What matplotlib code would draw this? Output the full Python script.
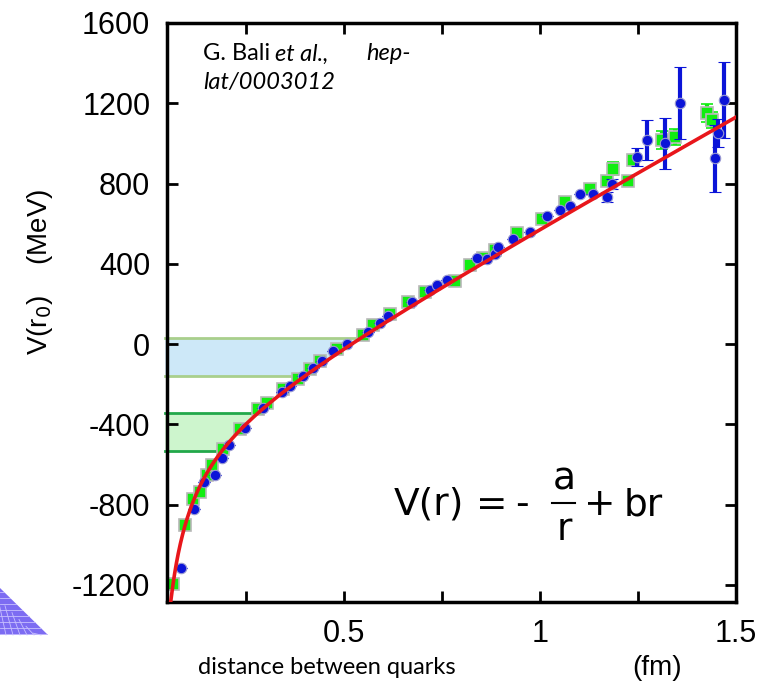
import numpy as np
import matplotlib.pyplot as plt
from matplotlib.patches import Polygon

plt.rcParams['axes.unicode_minus'] = False

# lattice data (r in fm, V in MeV)
r_green = [0.064, 0.094, 0.115, 0.133, 0.151, 0.163, 0.191, 0.235, 0.281, 0.304,
           0.344, 0.383, 0.413, 0.439, 0.482, 0.548, 0.574, 0.617, 0.663,
           0.707, 0.783, 0.822, 0.855, 0.885, 0.941, 1.005, 1.064, 1.128, 1.171,
           1.186, 1.225, 1.237, 1.311, 1.344, 1.426, 1.439]
V_green = [-1195, -900, -770, -735, -650, -600, -525, -425, -325, -295,
           -225, -175, -125, -85, -25, 45, 95, 150, 210,
           260, 315, 395, 430, 470, 555, 625, 710, 775, 815,
           875, 815, 915, 1015, 1030, 1150, 1115]
e_green = [0, 0, 0, 0, 0, 0, 0, 0, 0, 0,
           0, 0, 0, 0, 0, 0, 0, 0, 0,
           0, 0, 0, 0, 0, 0, 0, 0, 0, 0,
           30, 25, 25, 45, 40, 45, 40]

r_blue = [0.084, 0.117, 0.143, 0.171, 0.189, 0.207, 0.247, 0.293, 0.342, 0.362,
          0.395, 0.421, 0.444, 0.472, 0.508, 0.561, 0.592, 0.612, 0.674, 0.719,
          0.737, 0.763, 0.839, 0.865, 0.885, 0.893, 0.931, 0.975, 1.018, 1.051,
          1.077, 1.102, 1.135, 1.171, 1.184, 1.248, 1.273, 1.319, 1.357, 1.446,
          1.455, 1.469]
V_blue = [-1115, -820, -685, -650, -565, -505, -420, -320, -240, -210,
          -160, -120, -85, -35, 0, 60, 105, 140, 210, 270,
          295, 320, 430, 425, 450, 485, 525, 560, 640, 670,
          690, 750, 750, 735, 800, 930, 1015, 1000, 1200, 925,
          1050, 1215]
e_blue = [0, 0, 0, 0, 0, 0, 0, 0, 0, 0,
          0, 0, 0, 0, 0, 0, 0, 0, 0, 0,
          0, 0, 0, 0, 0, 0, 0, 0, 0, 0,
          0, 0, 0, 25, 25, 45, 100, 125, 180, 165,
          70, 190]

# fit  V(r) = -a/r + b r + c
a_fit, b_fit, c_fit = 51.0, 1088.0, -467.0

# shaded bands (MeV)
band_blue = (-160, 30)
band_green = (-535, -345)

fig = plt.figure(figsize=(7.74, 6.9), dpi=100)
ax = fig.add_axes([167/774, 1-602/690, (736-167)/774, (602-23)/690])

ax.set_xlim(0.0485, 1.5)
ax.set_ylim(-1285, 1600)

rr = np.linspace(0.03, 1.6, 2000)
VV = -a_fit/rr + b_fit*rr + c_fit

def r_of_V(v):
    return np.interp(v, VV, rr)

xl = 0.043
for (lo, hi), fc, ec in [(band_blue, '#cde8f8', '#a9cf8c'),
                         (band_green, '#cdf5cd', '#22a84a')]:
    yy = np.linspace(lo, hi, 100)
    ax.fill_betweenx(yy, xl, r_of_V(yy), color=fc, lw=0, clip_on=False, zorder=1)
    for v in (lo, hi):
        ax.plot([xl, r_of_V(v)], [v, v], color=ec, lw=2, clip_on=False, zorder=1.5)

ax.errorbar(r_green, V_green, yerr=e_green, fmt='s', ms=8.5, color='#11ee11',
            mec='#b8b8b8', mew=1.2, ecolor='#11ee11', elinewidth=3, capsize=4,
            capthick=2.5, zorder=2)
ax.errorbar(r_blue, V_blue, yerr=e_blue, fmt='o', ms=7.5, color='#0b14d8',
            mec='#9a9ad0', mew=0.8, ecolor='#0b14d8', elinewidth=3, capsize=4.5,
            capthick=2.5, zorder=3)

m = rr > 0.05
ax.plot(rr[m], VV[m], color='#e8161b', lw=2.6, zorder=4)

ax.set_xticks([0.25, 0.5, 0.75, 1.0, 1.25, 1.5])
ax.set_xticklabels(['', '0.5', '', '1', '', '1.5'])
ax.set_yticks(np.arange(-1200, 1601, 400))
ax.tick_params(direction='in', length=8, width=2, top=True, right=True,
               labelsize=22, pad=12)
for lab in ax.get_xticklabels() + ax.get_yticklabels():
    lab.set_family('Liberation Sans')
for s in ax.spines.values():
    s.set_linewidth(2.5)

def ftext(x, y, s, **kw):
    fig.text(x/774, 1-y/690, s, **kw)

ftext(203, 54, 'G. Bali', family='Lato', fontsize=17, va='center')
ftext(275, 54, 'et al.,', family='Lato', style='italic', fontsize=17, va='center')
ftext(366, 54, 'hep-', family='Lato', style='italic', fontsize=17, va='center')
ftext(203, 82, 'lat/0003012', family='Lato', style='italic', fontsize=17, va='center')

ftext(40, 272, 'V(r$_0$)    (MeV)', family='Liberation Sans', fontsize=20,
      rotation=90, ha='center', va='center')
ftext(198, 668, 'distance between quarks', family='Lato', fontsize=17, va='center')
ftext(657, 668, '(fm)', family='Liberation Sans', fontsize=20, ha='center', va='center')

ftext(394, 505, 'V(r)', family='DejaVu Sans', fontsize=27, va='center')
ftext(492, 505, '=', family='DejaVu Sans', fontsize=27, ha='center', va='center')
ftext(522, 505, '-', family='DejaVu Sans', fontsize=27, ha='center', va='center')
ftext(564, 480, 'a', family='DejaVu Sans', fontsize=27, ha='center', va='center')
ftext(564, 530, 'r', family='DejaVu Sans', fontsize=27, ha='center', va='center')
fig.add_artist(plt.Line2D([552/774, 575/774], [1-503/690, 1-503/690], color='black', lw=1.5))
ftext(600, 505, '+', family='DejaVu Sans', fontsize=27, ha='center', va='center')
ftext(624, 505, 'br', family='DejaVu Sans', fontsize=27, va='center')

# corner of the lattice picture
tri = Polygon([[0, 1-588/690], [48/774, 1-635/690], [0, 1-635/690]],
              closed=True, transform=fig.transFigure, fc='#7d6cf2', ec='none')
fig.add_artist(tri)
for yy_ in np.arange(592, 636, 6):
    xx_ = (yy_-588)*48/47
    fig.add_artist(plt.Line2D([0, xx_/774], [1-yy_/690, 1-yy_/690], color='#c8c0ff', lw=0.6))
for xx_ in np.arange(6, 48, 7):
    fig.add_artist(plt.Line2D([xx_/774, (xx_-8)/774], [1-635/690, 1-(588+xx_*47/48+5)/690],
                              color='#c8c0ff', lw=0.6))

fig.savefig('out.png', dpi=100)
